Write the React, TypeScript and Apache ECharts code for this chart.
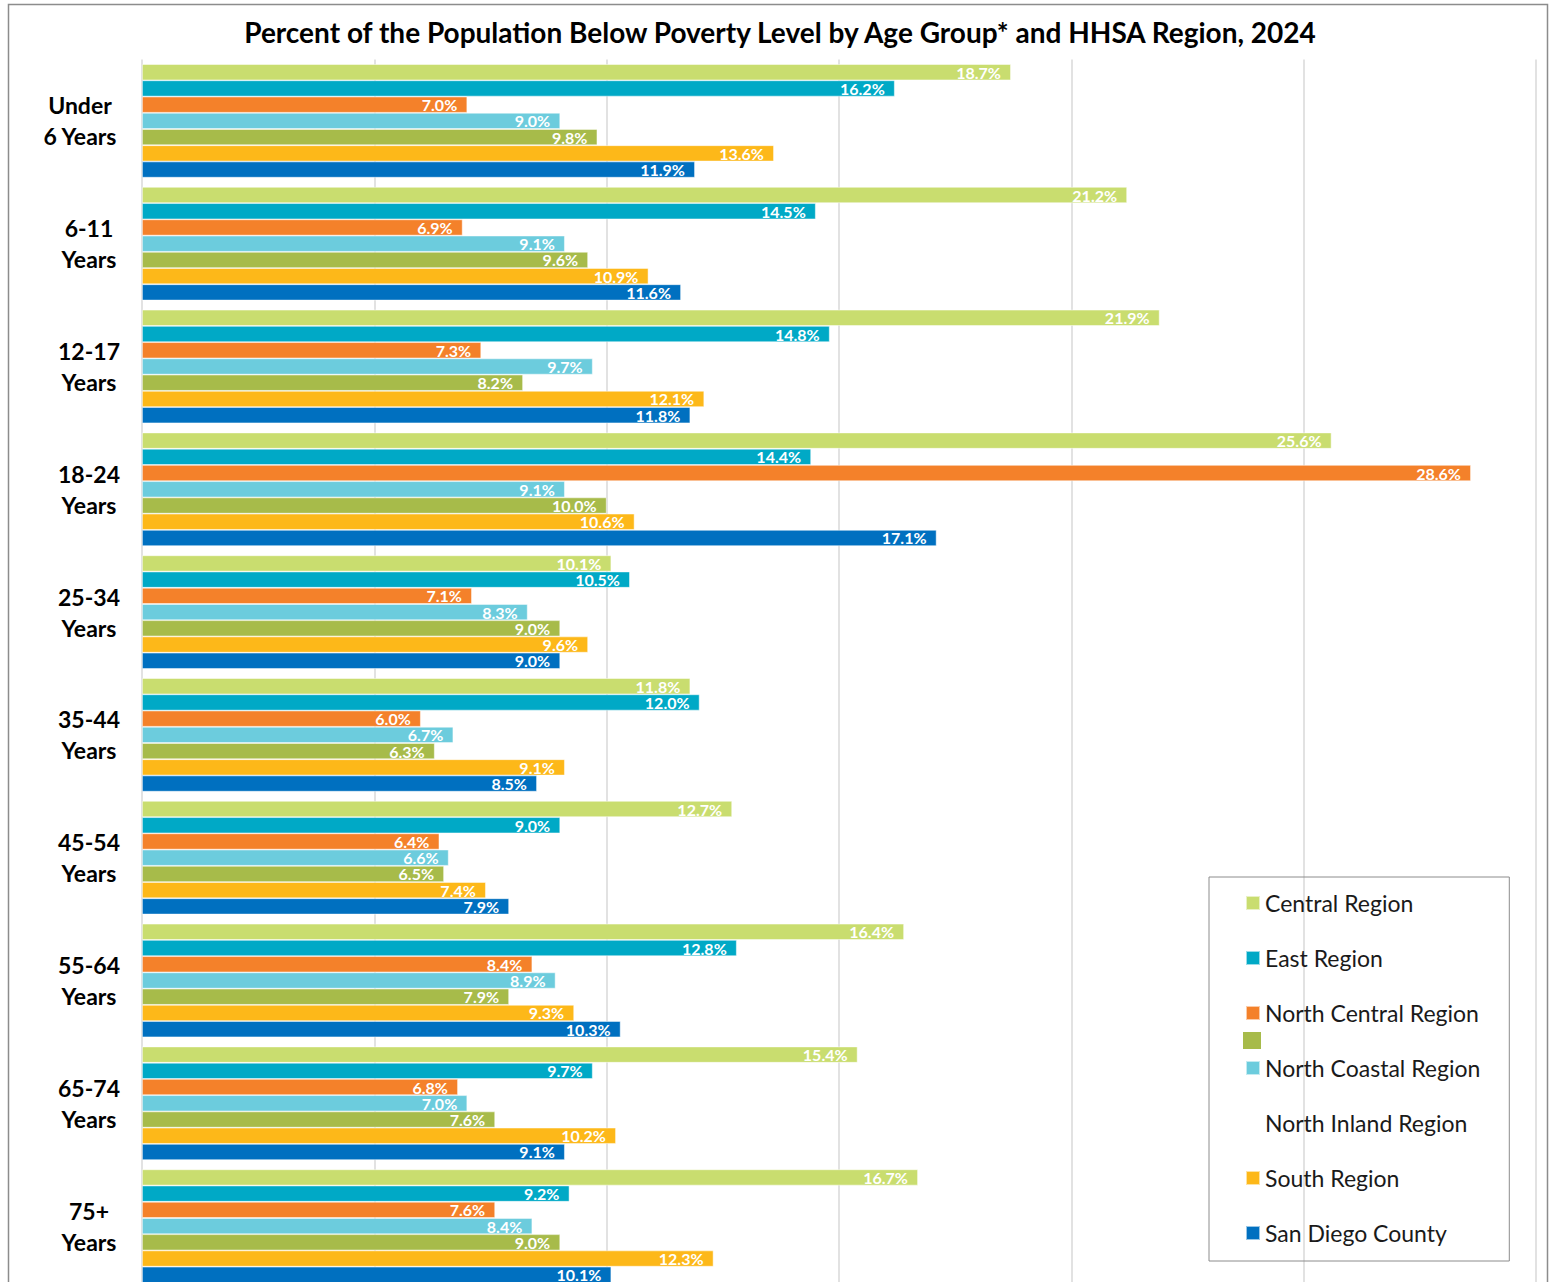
import React, { useEffect, useRef } from "react";
import * as echarts from "echarts";

const categories = [
  "Under\n6 Years",
  "6-11\nYears",
  "12-17\nYears",
  "18-24\nYears",
  "25-34\nYears",
  "35-44\nYears",
  "45-54\nYears",
  "55-64\nYears",
  "65-74\nYears",
  "75+\nYears",
];

const seriesNames = [
  "Central Region",
  "East Region",
  "North Central Region",
  "North Coastal Region",
  "North Inland Region",
  "South Region",
  "San Diego County",
];

const centralRegion = [18.7, 21.2, 21.9, 25.6, 10.1, 11.8, 12.7, 16.4, 15.4, 16.7];
const eastRegion = [16.2, 14.5, 14.8, 14.4, 10.5, 12.0, 9.0, 12.8, 9.7, 9.2];
const northCentralRegion = [7.0, 6.9, 7.3, 28.6, 7.1, 6.0, 6.4, 8.4, 6.8, 7.6];
const northCoastalRegion = [9.0, 9.1, 9.7, 9.1, 8.3, 6.7, 6.6, 8.9, 7.0, 8.4];
const northInlandRegion = [9.8, 9.6, 8.2, 10.0, 9.0, 6.3, 6.5, 7.9, 7.6, 9.0];
const southRegion = [13.6, 10.9, 12.1, 10.6, 9.6, 9.1, 7.4, 9.3, 10.2, 12.3];
const sanDiegoCounty = [11.9, 11.6, 11.8, 17.1, 9.0, 8.5, 7.9, 10.3, 9.1, 10.1];

const seriesValues = [
  centralRegion,
  eastRegion,
  northCentralRegion,
  northCoastalRegion,
  northInlandRegion,
  southRegion,
  sanDiegoCounty,
];

const seriesColors = ["#C9DD6F", "#00A9C6", "#F4812A", "#6CCCDD", "#A7BB4A", "#FDB819", "#0070C0"];

const xMin = 0;
const xMax = 30;
const xInterval = 5;

const FONT = "Lato, 'Open Sans', sans-serif";

export default function App() {
  const ref = useRef<HTMLDivElement>(null);

  useEffect(() => {
    if (!ref.current) return;
    const chart = echarts.init(ref.current, undefined, { renderer: "svg" });

    const labelStyle = (w: number) => ({
      width: w,
      align: "center",
      fontSize: 23,
      fontWeight: "bold",
      lineHeight: 31,
      color: "#000",
      fontFamily: FONT,
    });

    chart.setOption({
      animation: false,
      backgroundColor: "#ffffff",
      title: {
        text: "Percent of the Population Below Poverty Level by Age Group* and HHSA Region, 2024",
        left: "center",
        top: 18,
        padding: 0,
        textStyle: { fontSize: 28, fontWeight: "bold", color: "#000", fontFamily: FONT },
      },
      grid: { left: 142, right: 24, top: 59.5, height: 1228, containLabel: false },
      xAxis: {
        type: "value",
        min: xMin,
        max: xMax,
        interval: xInterval,
        axisLabel: { show: false },
        axisLine: { show: false },
        axisTick: { show: false },
        splitLine: { show: true, lineStyle: { color: "#d9d9d9", width: 1.5 } },
      },
      yAxis: {
        type: "category",
        inverse: true,
        data: categories,
        axisLine: { show: false },
        axisTick: { show: false },
        axisLabel: {
          align: "right",
          margin: 24,
          formatter: (v: string) => {
            const key = v.startsWith("Under") ? "w" : "n";
            return v
              .split("\n")
              .map((l) => `{${key}|${l}}`)
              .join("\n");
          },
          rich: { w: labelStyle(76), n: labelStyle(58) },
        },
      },
      legend: {
        orient: "vertical",
        left: 1209,
        top: 877,
        padding: [14, 29, 16, 36],
        itemWidth: 14,
        itemHeight: 14,
        itemGap: 31,
        icon: "rect",
        borderColor: "#8c8c8c",
        borderWidth: 1,
        textStyle: { fontSize: 23, lineHeight: 24, color: "#1a1a1a", fontFamily: FONT },
        data: seriesNames.map((n) =>
          n === "North Inland Region" ? { name: n, itemStyle: { opacity: 0 } } : { name: n }
        ),
      },
      graphic: [
        {
          type: "rect",
          silent: true,
          shape: { x: 8.5, y: 4.5, width: 1539, height: 1320 },
          style: { fill: "none", stroke: "#8c8c8c", lineWidth: 1.5 },
        },
        {
          type: "rect",
          silent: true,
          shape: { x: 1243, y: 1032, width: 18, height: 17 },
          style: { fill: seriesColors[4] },
        },
      ],
      series: seriesNames.map((name, i) => ({
        name,
        type: "bar",
        data: seriesValues[i],
        barGap: "0%",
        barCategoryGap: "7.5%",
        itemStyle: { color: seriesColors[i], borderColor: "rgba(255,255,255,0.6)", borderWidth: 0.8 },
        label: {
          show: true,
          position: "insideRight",
          distance: 10,
          color: "#ffffff",
          fontSize: 16,
          lineHeight: 14,
          fontWeight: "bold",
          fontFamily: FONT,
          formatter: (p: any) => Number(p.value).toFixed(1) + "%",
        },
      })),
    });

    return () => chart.dispose();
  }, []);

  return (
    <div style={{ position: "absolute", left: 0, top: 0, width: 1560, height: 1282, overflow: "hidden" }}>
      <div ref={ref} style={{ width: 1560, height: 1320 }} />
    </div>
  );
}
